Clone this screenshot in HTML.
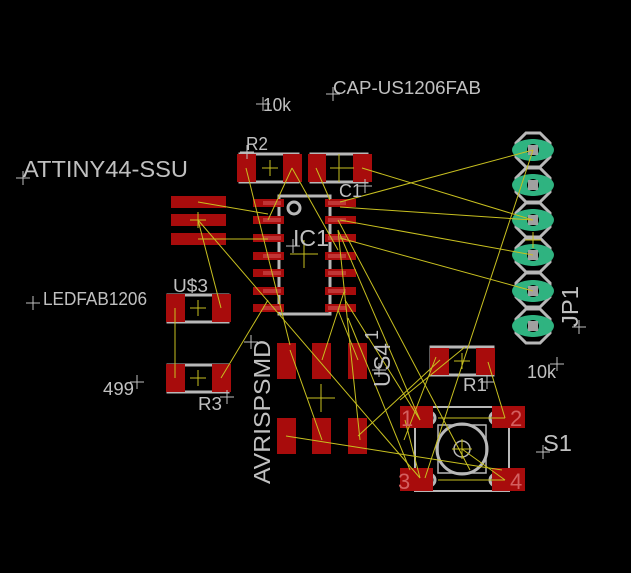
<!DOCTYPE html>
<html><head><meta charset="utf-8"><style>
html,body{margin:0;padding:0;background:#000;}
svg{display:block}
text{font-family:"Liberation Sans",sans-serif;fill:#c0c0c0}
</style></head><body>
<svg width="631" height="573" viewBox="0 0 631 573" xmlns="http://www.w3.org/2000/svg">
<rect width="631" height="573" fill="#000"/>
<g>
<g stroke="#b8b8b8" stroke-width="3" fill="none">
<polygon points="526,133 540,133 550,143 550,157 540,167 526,167 516,157 516,143"/>
<polygon points="526,168 540,168 550,178 550,192 540,202 526,202 516,192 516,178"/>
<polygon points="526,203 540,203 550,213 550,227 540,237 526,237 516,227 516,213"/>
<polygon points="526,238 540,238 550,248 550,262 540,272 526,272 516,262 516,248"/>
<polygon points="526,273 540,273 550,283 550,297 540,307 526,307 516,297 516,283"/>
<polygon points="526,309 540,309 550,319 550,333 540,343 526,343 516,333 516,319"/>
</g>
<g fill="#2fb380">
<ellipse cx="533" cy="150" rx="21" ry="11"/><ellipse cx="533" cy="185" rx="21" ry="11"/>
<ellipse cx="533" cy="220" rx="21" ry="11"/><ellipse cx="533" cy="255" rx="21" ry="11"/>
<ellipse cx="533" cy="291" rx="21" ry="11"/><ellipse cx="533" cy="326" rx="21" ry="11"/>
<circle cx="533" cy="150" r="11"/><circle cx="533" cy="185" r="11"/><circle cx="533" cy="220" r="11"/><circle cx="533" cy="255" r="11"/><circle cx="533" cy="291" r="11"/><circle cx="533" cy="326" r="11"/>
</g>
<g fill="#000"><circle cx="533" cy="150" r="6"/><circle cx="533" cy="185" r="6"/><circle cx="533" cy="220" r="6"/><circle cx="533" cy="255" r="6"/><circle cx="533" cy="291" r="6"/><circle cx="533" cy="326" r="6"/></g>
<g fill="#a0a0a0"><rect x="528" y="145" width="10" height="10"/><rect x="528" y="180" width="10" height="10"/><rect x="528" y="215" width="10" height="10"/><rect x="528" y="250" width="10" height="10"/><rect x="528" y="286" width="10" height="10"/><rect x="528" y="321" width="10" height="10"/></g>
</g>
<g stroke="#b8b8b8" stroke-width="3" fill="none">
<rect x="240" y="154" width="58" height="28"/>
<rect x="311" y="154" width="56" height="28"/>
<rect x="279" y="196" width="51" height="118"/>
<circle cx="294" cy="208" r="6"/>
<rect x="168" y="295" width="60" height="27"/>
<rect x="168" y="365" width="60" height="27"/>
<rect x="431" y="347" width="62" height="28"/>
<rect x="415" y="407" width="94" height="84" stroke-width="2"/>
<circle cx="462" cy="449" r="25" stroke-width="3"/>
<rect x="438" y="425" width="48" height="48" stroke-width="1.5"/>
<circle cx="462" cy="449" r="8" stroke-width="1.5"/>
<circle cx="429" cy="418" r="6"/><circle cx="496" cy="418" r="6"/>
<circle cx="429" cy="480" r="6"/><circle cx="496" cy="480" r="6"/>
</g>
<g fill="#a80c0c">
<rect x="237" y="154" width="19" height="28"/><rect x="283" y="154" width="19" height="28"/>
<rect x="308" y="154" width="18" height="28"/><rect x="353" y="154" width="19" height="28"/>
<rect x="171" y="196" width="55" height="12"/><rect x="171" y="214" width="55" height="12"/><rect x="171" y="233" width="55" height="12"/>
<rect x="253" y="199" width="31" height="8"/><rect x="253" y="216" width="31" height="8"/><rect x="253" y="234" width="31" height="8"/><rect x="253" y="252" width="31" height="8"/><rect x="253" y="269" width="31" height="8"/><rect x="253" y="287" width="31" height="8"/><rect x="253" y="304" width="31" height="8"/>
<rect x="325" y="199" width="31" height="8"/><rect x="325" y="216" width="31" height="8"/><rect x="325" y="234" width="31" height="8"/><rect x="325" y="252" width="31" height="8"/><rect x="325" y="269" width="31" height="8"/><rect x="325" y="287" width="31" height="8"/><rect x="325" y="304" width="31" height="8"/>
<rect x="166" y="294" width="19" height="28"/><rect x="212" y="294" width="19" height="28"/>
<rect x="166" y="364" width="19" height="28"/><rect x="212" y="364" width="19" height="28"/>
<rect x="277" y="343" width="19" height="36"/><rect x="312" y="343" width="19" height="36"/><rect x="348" y="343" width="19" height="36"/>
<rect x="277" y="418" width="19" height="36"/><rect x="312" y="418" width="19" height="36"/><rect x="348" y="418" width="19" height="36"/>
<rect x="430" y="348" width="19" height="27"/><rect x="476" y="348" width="19" height="27"/>
<rect x="400" y="406" width="33" height="22"/><rect x="492" y="406" width="33" height="22"/>
<rect x="400" y="468" width="33" height="23"/><rect x="492" y="468" width="33" height="23"/>
</g>
<g fill="#c84040" opacity="0.8">
<rect x="263" y="201" width="18" height="4"/><rect x="263" y="218" width="18" height="4"/><rect x="263" y="236" width="18" height="4"/><rect x="263" y="254" width="18" height="4"/><rect x="263" y="271" width="18" height="4"/><rect x="263" y="289" width="18" height="4"/><rect x="263" y="306" width="18" height="4"/>
<rect x="328" y="201" width="18" height="4"/><rect x="328" y="218" width="18" height="4"/><rect x="328" y="236" width="18" height="4"/><rect x="328" y="254" width="18" height="4"/><rect x="328" y="271" width="18" height="4"/><rect x="328" y="289" width="18" height="4"/><rect x="328" y="306" width="18" height="4"/>
</g>
<g stroke="#c8c020" stroke-width="1" fill="none">
<line x1="533" y1="150" x2="340" y2="202"/>
<line x1="533" y1="150" x2="425" y2="478"/>
<line x1="362" y1="168" x2="533" y2="220"/>
<line x1="340" y1="207" x2="533" y2="220"/>
<line x1="340" y1="220" x2="533" y2="255"/>
<line x1="340" y1="238" x2="533" y2="291"/>
<line x1="198" y1="202" x2="268" y2="214"/>
<line x1="198" y1="239" x2="268" y2="239"/>
<line x1="198" y1="220" x2="420" y2="478"/>
<line x1="198" y1="220" x2="221" y2="308"/>
<line x1="175" y1="308" x2="175" y2="378"/>
<line x1="221" y1="378" x2="268" y2="300"/>
<line x1="246" y1="168" x2="290" y2="345"/>
<line x1="292" y1="168" x2="268" y2="220"/>
<line x1="292" y1="168" x2="338" y2="250"/>
<line x1="316" y1="168" x2="330" y2="200"/>
<line x1="338" y1="230" x2="360" y2="440"/>
<line x1="338" y1="230" x2="420" y2="420"/>
<line x1="338" y1="220" x2="470" y2="470"/>
<line x1="290" y1="350" x2="322" y2="440"/>
<line x1="322" y1="360" x2="344" y2="292"/>
<line x1="358" y1="360" x2="338" y2="310"/>
<line x1="286" y1="436" x2="502" y2="470"/>
<line x1="358" y1="436" x2="440" y2="360"/>
<line x1="436" y1="357" x2="404" y2="440"/>
<line x1="488" y1="362" x2="505" y2="418"/>
<line x1="438" y1="418" x2="505" y2="418"/>
<line x1="438" y1="480" x2="505" y2="480"/>
<line x1="462" y1="449" x2="505" y2="480"/>
<line x1="400" y1="400" x2="465" y2="347"/>
<line x1="405" y1="420" x2="420" y2="478"/>
<line x1="345" y1="300" x2="420" y2="420"/>
<line x1="348" y1="318" x2="410" y2="470"/>
</g>
<g stroke="#c8c020" stroke-width="1">
<path d="M262,168h16M270,160v16"/><path d="M330,168h24M339,154v28"/><path d="M190,220h16M198,212v16"/>
<path d="M190,308h16M198,300v16"/><path d="M190,378h16M198,370v16"/><path d="M290,254h28M304,240v28"/>
<path d="M307,398h28M321,384v28"/><path d="M454,361h16M462,353v16"/><path d="M452,449h20M462,439v20"/>
<path d="M525,240h16M533,232v16"/>
</g>
<g stroke="#c0c0c0" stroke-width="1">
<path d="M16,178h14M23,171v14"/><path d="M256,104h14M263,97v14"/><path d="M326,94h14M333,87v14"/>
<path d="M240,152h14M247,145v14"/><path d="M26,303h14M33,296v14"/><path d="M130,382h14M137,375v14"/>
<path d="M358,186h14M365,179v14"/><path d="M244,342h14M251,335v14"/><path d="M220,397h14M227,390v14"/>
<path d="M480,382h14M487,375v14"/><path d="M550,364h14M557,357v14"/><path d="M536,452h14M543,445v14"/>
<path d="M572,327h14M579,320v14"/><path d="M286,246h14M293,239v14"/><path d="M372,370h14M379,363v14"/>
</g>
<text x="23" y="177" font-size="23" textLength="165" lengthAdjust="spacingAndGlyphs">ATTINY44-SSU</text>
<text x="333" y="94" font-size="18" textLength="148" lengthAdjust="spacingAndGlyphs">CAP-US1206FAB</text>
<text x="263" y="111" font-size="18" textLength="28" lengthAdjust="spacingAndGlyphs">10k</text>
<text x="246" y="150" font-size="18" textLength="22" lengthAdjust="spacingAndGlyphs">R2</text>
<text x="339" y="197" font-size="18" textLength="23" lengthAdjust="spacingAndGlyphs">C1</text>
<text x="293" y="246" font-size="23" textLength="36" lengthAdjust="spacingAndGlyphs">IC1</text>
<text x="43" y="305" font-size="18" textLength="104" lengthAdjust="spacingAndGlyphs">LEDFAB1206</text>
<text x="173" y="292" font-size="18" textLength="35" lengthAdjust="spacingAndGlyphs">U$3</text>
<text x="103" y="395" font-size="18" textLength="31" lengthAdjust="spacingAndGlyphs">499</text>
<text x="198" y="410" font-size="18" textLength="24" lengthAdjust="spacingAndGlyphs">R3</text>
<text x="463" y="391" font-size="18" textLength="24" lengthAdjust="spacingAndGlyphs">R1</text>
<text x="527" y="378" font-size="18" textLength="29" lengthAdjust="spacingAndGlyphs">10k</text>
<text x="543" y="451" font-size="23" textLength="29" lengthAdjust="spacingAndGlyphs">S1</text>
<text transform="translate(270,484) rotate(-90)" font-size="23" textLength="144" lengthAdjust="spacingAndGlyphs">AVRISPSMD</text>
<text transform="translate(390,387) rotate(-90)" font-size="23" textLength="44" lengthAdjust="spacingAndGlyphs">US4</text>
<text transform="translate(378,340) rotate(-90)" font-size="18">1</text>
<text transform="translate(578,327) rotate(-90)" font-size="23" textLength="41" lengthAdjust="spacingAndGlyphs">JP1</text>
<g font-size="22"><text x="401" y="426" style="fill:#d46060">1</text><text x="510" y="426" style="fill:#d46060">2</text><text x="398" y="489" style="fill:#d46060">3</text><text x="510" y="489" style="fill:#d46060">4</text></g>
</svg>
</body></html>
